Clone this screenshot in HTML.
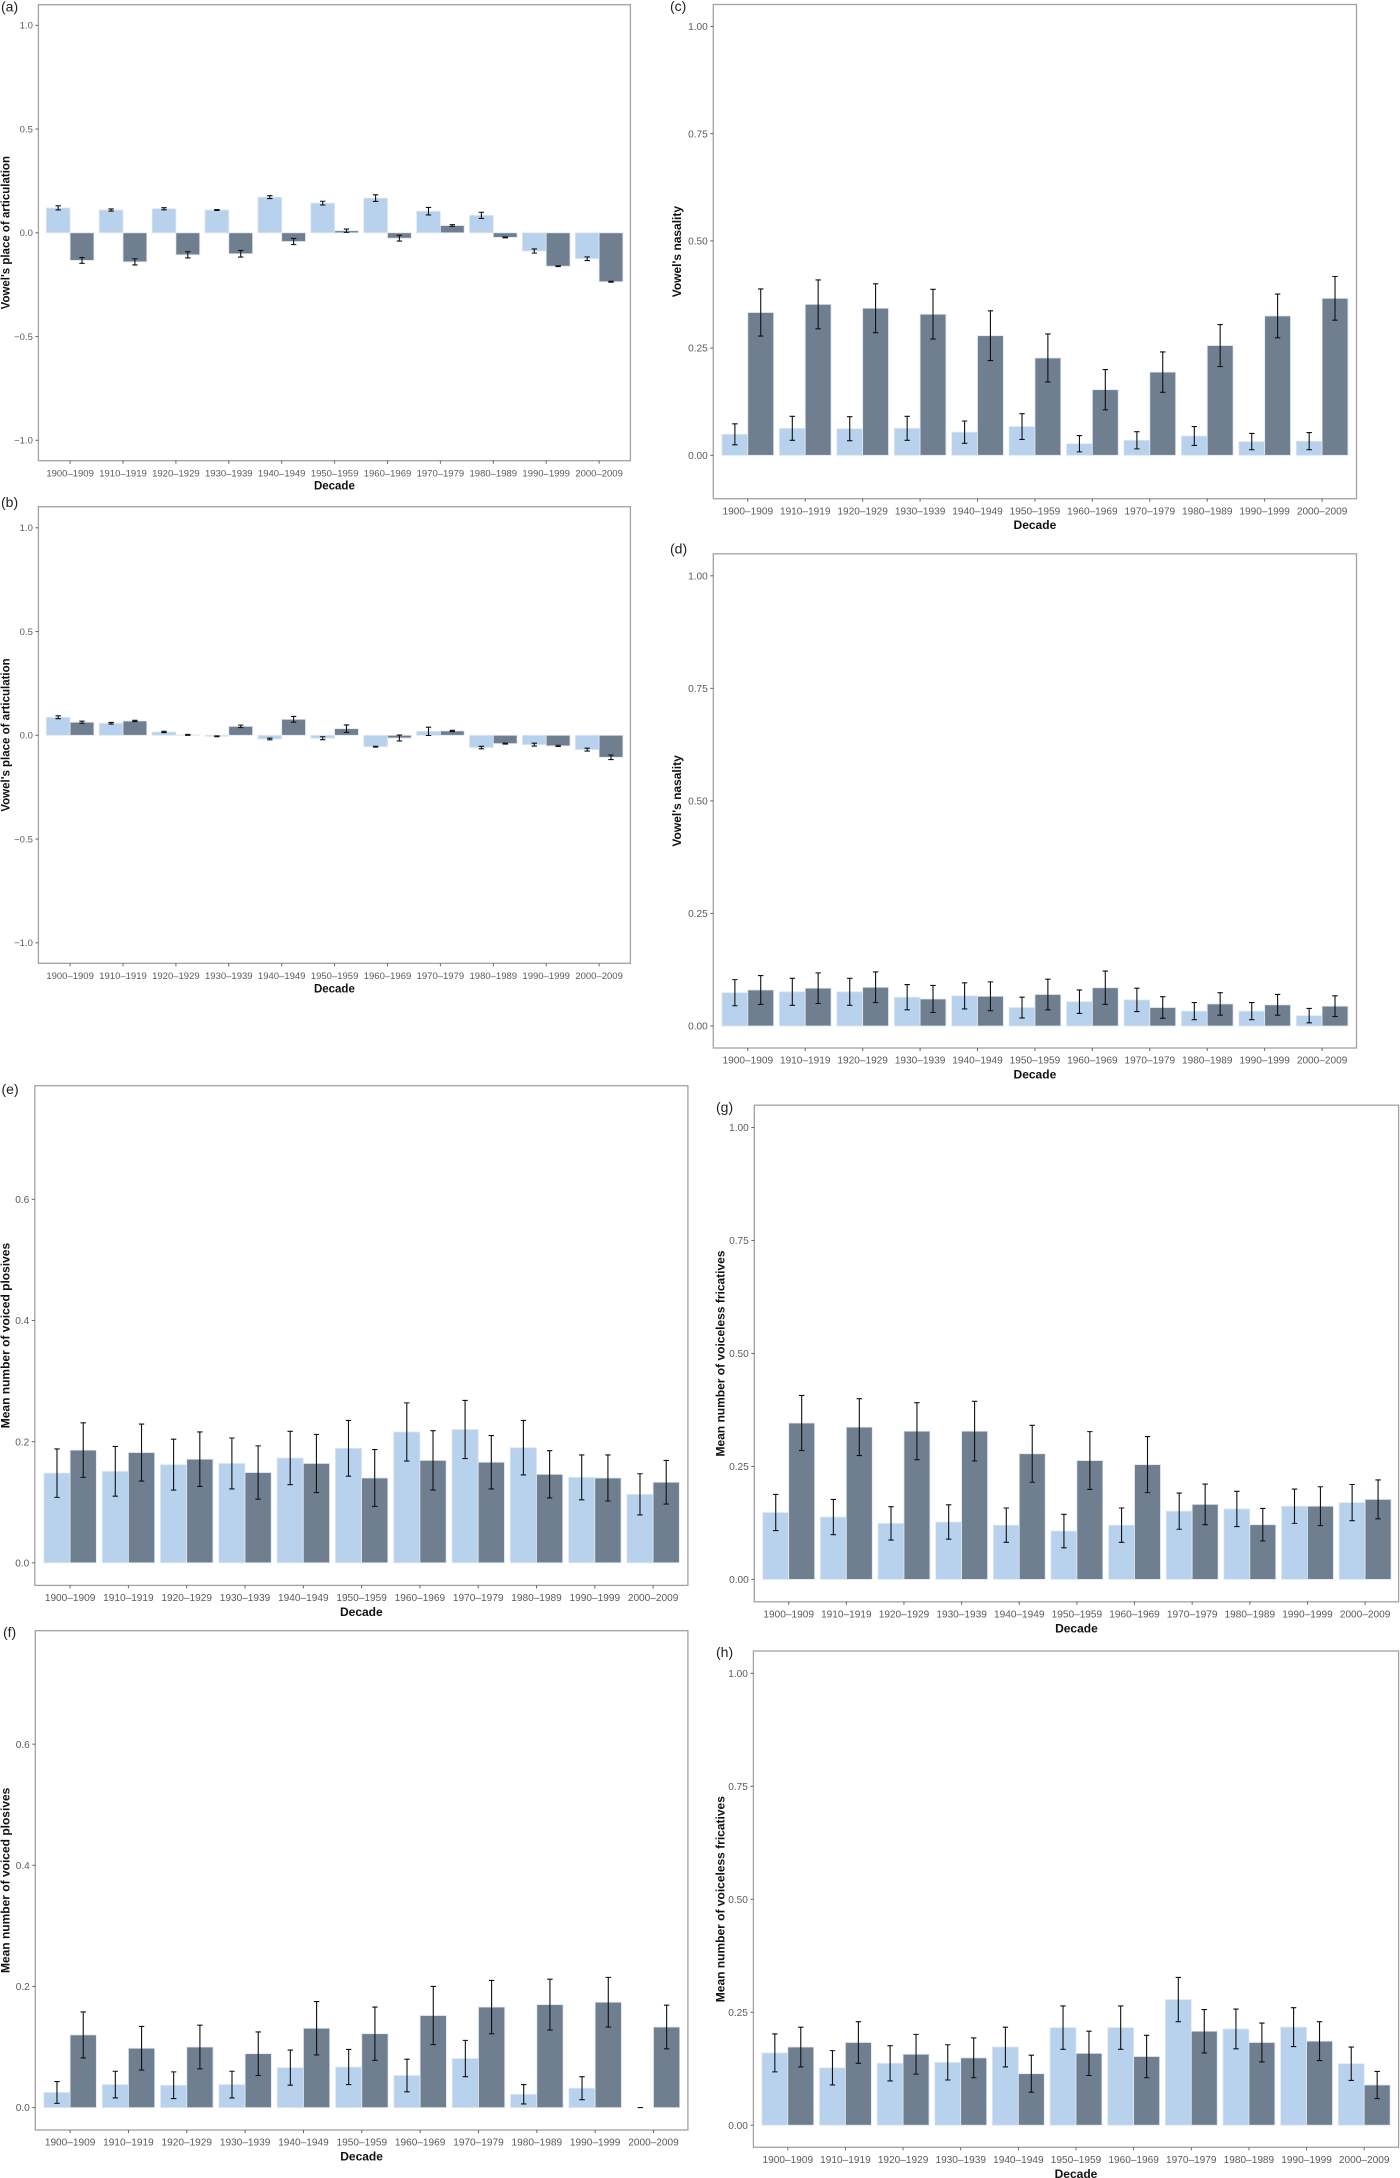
<!DOCTYPE html>
<html lang="en">
<head>
<meta charset="utf-8">
<title>Mean phonetic features by decade</title>
<style>
  html, body { margin: 0; padding: 0; background: #ffffff; }
  #figure { display: block; width: 1400px; height: 2178px; background: #ffffff; }
  text { font-family: "Liberation Sans", sans-serif; }
</style>
</head>
<body>
<svg id="figure" xmlns="http://www.w3.org/2000/svg" width="1400" height="2178" viewBox="0 0 1400 2178"></svg>
<script>
// Shared categories
const categories = ["1900–1909","1910–1919","1920–1929","1930–1939","1940–1949","1950–1959","1960–1969","1970–1979","1980–1989","1990–1999","2000–2009"];

// Tick labels
const ticksPlace = [1.0, 0.5, 0.0, -0.5, -1.0];
const ticksPlaceLabels = ["1.0", "0.5", "0.0", "−0.5", "−1.0"];
const ticksQuarter = [1.0, 0.75, 0.5, 0.25, 0.0];
const ticksQuarterLabels = ["1.00", "0.75", "0.50", "0.25", "0.00"];
const ticksPlosive = [0.6, 0.4, 0.2, 0.0];
const ticksPlosiveLabels = ["0.6", "0.4", "0.2", "0.0"];

// Panel (a)
const aLight = [0.12,0.11,0.116,0.11,0.172,0.143,0.167,0.104,0.084,-0.088,-0.125];
const aDark = [-0.133,-0.14,-0.106,-0.101,-0.042,0.01,-0.026,0.035,-0.022,-0.161,-0.236];
const aLightErr = [0.01,0.005,0.005,0.002,0.007,0.009,0.016,0.018,0.015,0.01,0.009];
const aDarkErr = [0.014,0.015,0.015,0.016,0.015,0.008,0.014,0.004,0.002,0.002,0.002];

// Panel (b)
const bLight = [0.087,0.058,0.016,-0.005,-0.018,-0.014,-0.055,0.019,-0.059,-0.045,-0.069];
const bDark = [0.063,0.069,0.002,0.043,0.077,0.032,-0.013,0.021,-0.04,-0.051,-0.106];
const bLightErr = [0.007,0.004,0.003,0.002,0.004,0.007,0.002,0.02,0.006,0.007,0.007];
const bDarkErr = [0.005,0.003,0.002,0.006,0.014,0.018,0.014,0.003,0.002,0.003,0.011];

// Panel (c)
const cLight = [0.049,0.063,0.062,0.063,0.054,0.067,0.027,0.035,0.045,0.032,0.033];
const cDark = [0.333,0.352,0.343,0.329,0.279,0.227,0.153,0.194,0.256,0.325,0.366];
const cLightErr = [0.0245,0.028,0.028,0.028,0.026,0.03,0.019,0.02,0.022,0.019,0.02];
const cDarkErr = [0.055,0.057,0.057,0.058,0.058,0.056,0.047,0.047,0.049,0.051,0.051];

// Panel (d)
const dLight = [0.074,0.076,0.076,0.064,0.067,0.041,0.054,0.058,0.033,0.033,0.023];
const dDark = [0.08,0.084,0.086,0.06,0.066,0.07,0.085,0.041,0.049,0.047,0.044];
const dLightErr = [0.029,0.03,0.03,0.028,0.029,0.023,0.026,0.026,0.019,0.019,0.016];
const dDarkErr = [0.032,0.034,0.034,0.03,0.032,0.034,0.037,0.024,0.025,0.023,0.023];

// Panel (e)
const eLight = [0.148,0.151,0.162,0.164,0.173,0.189,0.216,0.22,0.19,0.141,0.113];
const eDark = [0.186,0.182,0.171,0.149,0.164,0.14,0.169,0.166,0.146,0.14,0.133];
const eLightErr = [0.04,0.041,0.042,0.042,0.044,0.046,0.048,0.048,0.045,0.037,0.034];
const eDarkErr = [0.045,0.047,0.045,0.044,0.048,0.047,0.049,0.044,0.039,0.038,0.036];

// Panel (f)
const fLight = [0.025,0.038,0.037,0.038,0.066,0.067,0.053,0.081,0.022,0.032,0];
const fDark = [0.12,0.098,0.1,0.089,0.131,0.122,0.152,0.166,0.17,0.174,0.133];
const fLightErr = [0.018,0.022,0.022,0.022,0.029,0.029,0.027,0.03,0.016,0.019,0];
const fDarkErr = [0.038,0.036,0.036,0.036,0.044,0.044,0.048,0.044,0.042,0.041,0.036];

// Panel (g)
const gLight = [0.148,0.138,0.124,0.127,0.12,0.107,0.12,0.151,0.156,0.162,0.17];
const gDark = [0.346,0.337,0.328,0.328,0.278,0.263,0.254,0.166,0.121,0.162,0.177];
const gLightErr = [0.04,0.039,0.037,0.038,0.038,0.037,0.038,0.04,0.039,0.038,0.04];
const gDarkErr = [0.061,0.063,0.063,0.066,0.063,0.064,0.062,0.045,0.036,0.043,0.043];

// Panel (h)
const hLight = [0.16,0.127,0.137,0.139,0.173,0.216,0.216,0.278,0.213,0.217,0.136];
const hDark = [0.173,0.183,0.157,0.149,0.114,0.159,0.152,0.208,0.183,0.186,0.089];
const hLightErr = [0.042,0.038,0.039,0.039,0.044,0.048,0.048,0.049,0.044,0.043,0.037];
const hDarkErr = [0.044,0.046,0.044,0.044,0.041,0.049,0.047,0.048,0.043,0.043,0.03];

const SVG_NS = "http://www.w3.org/2000/svg";
const root = document.getElementById("figure");

function mk(tag, parent, attrs, content) {
  const node = document.createElementNS(SVG_NS, tag);
  for (const key in attrs) node.setAttribute(key, attrs[key]);
  if (content !== undefined) node.textContent = content;
  parent.appendChild(node);
  return node;
}

function drawPanel(p) {
  // Axis functions
  const step = (p.lastCenter - p.firstCenter) / (categories.length - 1);
  const xCenter = i => p.firstCenter + i * step;
  const y = v => p.zero - v * p.unit;
  const barW = step * 0.45;

  const group = mk("g", root, {});
  
  

  const tag = mk("text", group, { x: p.tagX, y: p.tagY, "font-size": 14, fill: "#222222" }, "(" + p.id + ")");
  
  

  const bars = mk("g", group, { stroke: "#dfe7f0", "stroke-width": 0.8 });
  
  

  categories.forEach((cat, i) => {
    const cx = xCenter(i);
    const top1 = Math.min(y(0), y(p.light[i]));
    const h1 = Math.abs(y(p.light[i]) - y(0));
    if (h1 > 0) {
      const barA = mk("rect", bars, { x: cx - barW, y: top1, width: barW, height: h1, fill: "#b8d2ee" });
      
      
    }
    const top2 = Math.min(y(0), y(p.dark[i]));
    const h2 = Math.abs(y(p.dark[i]) - y(0));
    const barB = mk("rect", bars, { x: cx, y: top2, width: barW, height: h2, fill: "#6f7f90" });
    
    
  });

  const errors = mk("g", group, { stroke: "#111111", "stroke-width": 1.1, fill: "none" });
  
  

  categories.forEach((cat, i) => {
    const cx = xCenter(i);
    [[cx - barW / 2, p.light[i], p.lightErr[i]], [cx + barW / 2, p.dark[i], p.darkErr[i]]].forEach(spec => {
      const ex = spec[0];
      const hi = y(spec[1] + spec[2]);
      const lo = y(spec[1] - spec[2]);
      const d = "M" + (ex - 2.7) + " " + hi + "H" + (ex + 2.7) + "M" + ex + " " + hi + "V" + lo + "M" + (ex - 2.7) + " " + lo + "H" + (ex + 2.7);
      const err = mk("path", errors, { d: d });
      
      
    });
  });

  const frame = mk("rect", group, { x: p.left, y: p.top, width: p.right - p.left, height: p.bottom - p.top, fill: "none", stroke: "#a2a2a2", "stroke-width": 1.3 });
  
  

  p.ticks.forEach((v, i) => {
    const tick = mk("line", group, { x1: p.left - 3, x2: p.left, y1: y(v), y2: y(v), stroke: "#666666", "stroke-width": 1 });
    
    
    const label = mk("text", group, { x: p.left - 5.5, y: y(v) + p.tickFont * 0.36, "font-size": p.tickFont, fill: "#5a5a5a", "text-anchor": "end" }, p.tickLabels[i]);
    
    
  });

  categories.forEach((cat, i) => {
    const cx = xCenter(i);
    const tick = mk("line", group, { x1: cx, x2: cx, y1: p.bottom, y2: p.bottom + 3, stroke: "#666666", "stroke-width": 1 });
    
    
    const label = mk("text", group, { x: cx, y: p.bottom + 15.6, "font-size": p.tickFont, fill: "#5a5a5a", "text-anchor": "middle" }, cat);
    
    
  });

  const xTitle = mk("text", group, { x: (p.left + p.right) / 2, y: p.bottom + p.titleGap, "font-size": p.titleFont, "font-weight": "bold", fill: "#111111", "text-anchor": "middle" }, "Decade");
  
  

  const yMid = (p.top + p.bottom) / 2;
  const yTitle = mk("text", group, { x: p.yTitleX, y: yMid, "font-size": p.titleFont, "font-weight": "bold", fill: "#111111", "text-anchor": "middle", transform: "rotate(-90 " + p.yTitleX + " " + yMid + ")" }, p.yTitle);
  
  
}

drawPanel({ id: "a", light: aLight, dark: aDark, lightErr: aLightErr, darkErr: aDarkErr, ticks: ticksPlace, tickLabels: ticksPlaceLabels, yTitle: "Vowel's place of articulation",
  left: 38.4, right: 630.4, top: 4.7, bottom: 460.7, zero: 232.8, unit: 207.5, firstCenter: 70.1, lastCenter: 599.1,
  tickFont: 9.5, titleFont: 11.5, titleGap: 29, yTitleX: 9.5, tagX: 1, tagY: 11.5 });

drawPanel({ id: "b", light: bLight, dark: bDark, lightErr: bLightErr, darkErr: bDarkErr, ticks: ticksPlace, tickLabels: ticksPlaceLabels, yTitle: "Vowel's place of articulation",
  left: 38.4, right: 630.4, top: 506.7, bottom: 963.3, zero: 735.3, unit: 207.5, firstCenter: 70.1, lastCenter: 599.1,
  tickFont: 9.5, titleFont: 11.5, titleGap: 29, yTitleX: 9.5, tagX: 1, tagY: 507 });

drawPanel({ id: "c", light: cLight, dark: cDark, lightErr: cLightErr, darkErr: cDarkErr, ticks: ticksQuarter, tickLabels: ticksQuarterLabels, yTitle: "Vowel's nasality",
  left: 713.3, right: 1356.5, top: 4.5, bottom: 498.7, zero: 455.3, unit: 428.8, firstCenter: 747.8, lastCenter: 1322.1,
  tickFont: 10.1, titleFont: 12, titleGap: 30.5, yTitleX: 681, tagX: 670, tagY: 11 });

drawPanel({ id: "d", light: dLight, dark: dDark, lightErr: dLightErr, darkErr: dDarkErr, ticks: ticksQuarter, tickLabels: ticksQuarterLabels, yTitle: "Vowel's nasality",
  left: 713.3, right: 1356.5, top: 553.8, bottom: 1048, zero: 1026, unit: 450.2, firstCenter: 747.8, lastCenter: 1322.1,
  tickFont: 10.1, titleFont: 12, titleGap: 30.5, yTitleX: 681, tagX: 670, tagY: 553.5 });

drawPanel({ id: "e", light: eLight, dark: eDark, lightErr: eLightErr, darkErr: eDarkErr, ticks: ticksPlosive, tickLabels: ticksPlosiveLabels, yTitle: "Mean number of voiced plosives",
  left: 34.8, right: 687.9, top: 1085.7, bottom: 1585.4, zero: 1562.8, unit: 605.8, firstCenter: 70.1, lastCenter: 653.1,
  tickFont: 10.1, titleFont: 12, titleGap: 30.5, yTitleX: 9.5, tagX: 1.5, tagY: 1094 });

drawPanel({ id: "f", light: fLight, dark: fDark, lightErr: fLightErr, darkErr: fDarkErr, ticks: ticksPlosive, tickLabels: ticksPlosiveLabels, yTitle: "Mean number of voiced plosives",
  left: 35.3, right: 687.9, top: 1630.7, bottom: 2130, zero: 2107.6, unit: 605.7, firstCenter: 70.1, lastCenter: 653.5,
  tickFont: 10.1, titleFont: 12, titleGap: 30.5, yTitleX: 9.5, tagX: 3, tagY: 1637 });

drawPanel({ id: "g", light: gLight, dark: gDark, lightErr: gLightErr, darkErr: gDarkErr, ticks: ticksQuarter, tickLabels: ticksQuarterLabels, yTitle: "Mean number of voiceless fricatives",
  left: 754.3, right: 1398.6, top: 1105.2, bottom: 1601.8, zero: 1579.4, unit: 451.9, firstCenter: 788.7, lastCenter: 1365.1,
  tickFont: 10.1, titleFont: 12, titleGap: 30.5, yTitleX: 724.5, tagX: 716, tagY: 1112 });

drawPanel({ id: "h", light: hLight, dark: hDark, lightErr: hLightErr, darkErr: hDarkErr, ticks: ticksQuarter, tickLabels: ticksQuarterLabels, yTitle: "Mean number of voiceless fricatives",
  left: 753.4, right: 1398.6, top: 1651, bottom: 2147.3, zero: 2125.2, unit: 451.9, firstCenter: 787.8, lastCenter: 1364.2,
  tickFont: 10.1, titleFont: 12, titleGap: 30.5, yTitleX: 724.5, tagX: 716, tagY: 1657 });
</script>
</body>
</html>
